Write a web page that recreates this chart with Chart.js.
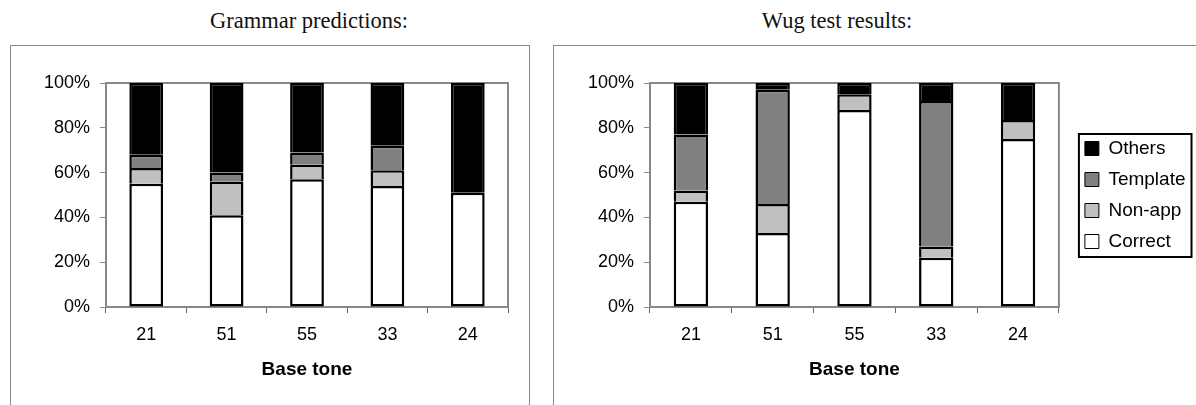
<!DOCTYPE html>
<html><head><meta charset="utf-8">
<script src="https://cdn.jsdelivr.net/npm/chart.js@4.4.1/dist/chart.umd.min.js"></script>
<style>
html,body{margin:0;padding:0;background:#fff;width:1196px;height:405px;overflow:hidden;position:relative;font-family:"Liberation Sans",Arial,sans-serif}
.title{position:absolute;top:9px;line-height:23px;font-family:"Liberation Serif","Times New Roman",serif;font-size:22.5px;color:#111;white-space:nowrap;transform:translateX(-50%)}
.box{position:absolute;border:1.5px solid #888;box-sizing:border-box}
.wrap{position:absolute}
</style></head><body>
<div class="title" style="left:309px">Grammar predictions:</div>
<div class="title" style="left:837px">Wug test results:</div>
<div class="box" style="left:10px;top:45px;width:520px;height:380px"></div>
<div class="box" style="left:553px;top:45px;width:680px;height:380px"></div>
<div class="wrap" style="left:11px;top:47px;width:517px;height:358px"><canvas id="c1"></canvas></div>
<div class="wrap" style="left:555px;top:47px;width:641px;height:358px"><canvas id="c2"></canvas></div>
<script>
// ---- data ----
const categories = ['21', '51', '55', '33', '24'];
const seriesNames = ['Correct', 'Non-app', 'Template', 'Others'];
const grammarCorrect  = [55, 41, 57, 54, 51];
const grammarNonApp   = [7, 15, 6.5, 7, 0];
const grammarTemplate = [6, 4, 5.5, 11, 0];
const grammarOthers   = [32, 40, 31, 28, 49];
const wugCorrect  = [47, 33, 88, 22, 75];
const wugNonApp   = [5, 13, 7, 5, 8.5];
const wugTemplate = [25, 51, 0, 65, 0];
const wugOthers   = [23, 3, 5, 8, 16.5];
const yTickValues = [0, 20, 40, 60, 80, 100];
const xAxisTitle = 'Base tone';

// ---- styling ----
const FONT = '"Liberation Sans", Arial, sans-serif';
const fills = ['#ffffff', '#c0c0c0', '#808080', '#000000'];
const LEGEND_GAP = 14;

function makeDatasets(arrs) {
  return arrs.map((d, i) => ({
    label: seriesNames[i],
    data: d,
    backgroundColor: fills[i],
    borderColor: '#000',
    borderWidth: 2.5,
    borderSkipped: i === 0 ? false : 'start',
    inflateAmount: 0,
    barPercentage: 0.42,
    categoryPercentage: 1.0
  }));
}

const plotBorder = {
  id: 'plotBorder',
  beforeDatasetsDraw(chart) {
    const a = chart.chartArea, ctx = chart.ctx;
    ctx.save();
    ctx.strokeStyle = '#888';
    ctx.lineWidth = 2;
    ctx.strokeRect(a.left, a.top, a.right - a.left, a.bottom - a.top);
    ctx.restore();
  }
};

// move the legend a little away from the plot area, then frame it
const legendBox = {
  id: 'legendBox',
  afterLayout(chart) {
    const lg = chart.legend;
    if (!lg) return;
    lg.left += LEGEND_GAP;
    lg.right += LEGEND_GAP;
  },
  afterDraw(chart) {
    const lg = chart.legend;
    if (!lg || !lg.options.display || !lg.legendHitBoxes.length) return;
    const hb = lg.legendHitBoxes;
    let l = Infinity, t = Infinity, r = -Infinity, b = -Infinity;
    hb.forEach(h => { l = Math.min(l, h.left); t = Math.min(t, h.top); r = Math.max(r, h.left + h.width); b = Math.max(b, h.top + h.height); });
    const ctx = chart.ctx;
    ctx.save();
    ctx.strokeStyle = '#000';
    ctx.lineWidth = 2;
    ctx.strokeRect(l - 6, t - 5, (r - l) + 12, (b - t) + 11);
    ctx.restore();
  }
};

function makeOptions(withLegend) {
  return {
    responsive: true,
    maintainAspectRatio: false,
    animation: false,
    layout: { padding: { top: 36, right: withLegend ? 14.5 : 20, left: 0, bottom: 0 } },
    scales: {
      x: {
        stacked: true,
        offset: true,
        grid: { display: true, drawOnChartArea: false, drawTicks: true, tickLength: 6, color: '#666', offset: true },
        border: { display: true, color: '#888', width: 2 },
        ticks: { color: '#000', font: { family: FONT, size: 18 }, padding: 11 },
        title: { display: true, text: xAxisTitle, color: '#000', font: { family: FONT, size: 19, weight: 'bold' }, padding: { top: 0, bottom: 24 } },
        afterFit: s => { s.height = 98; }
      },
      y: {
        stacked: true,
        min: 0, max: 100,
        afterBuildTicks: s => { s.ticks = yTickValues.map(v => ({ value: v })); },
        grid: { display: true, drawOnChartArea: false, tickLength: 6, color: '#888' },
        border: { display: true, color: '#888', width: 2 },
        ticks: { color: '#000', font: { family: FONT, size: 18 }, padding: 10, callback: v => v + '%' },
        afterFit: s => { s.width = 95; }
      }
    },
    plugins: {
      tooltip: { enabled: false },
      legend: withLegend ? {
        display: true,
        position: 'right',
        align: 'center',
        fullSize: false,
        reverse: true,
        labels: {
          color: '#000',
          font: { family: FONT, size: 19 },
          boxWidth: 14, boxHeight: 14, padding: 12,
          generateLabels(chart) {
            const items = Chart.defaults.plugins.legend.labels.generateLabels(chart);
            items.forEach(it => { it.lineWidth = 1; it.strokeStyle = '#000'; });
            return items;
          }
        }
      } : { display: false }
    }
  };
}

new Chart(document.getElementById('c1'), {
  type: 'bar',
  data: { labels: categories, datasets: makeDatasets([grammarCorrect, grammarNonApp, grammarTemplate, grammarOthers]) },
  options: makeOptions(false),
  plugins: [plotBorder]
});
new Chart(document.getElementById('c2'), {
  type: 'bar',
  data: { labels: categories, datasets: makeDatasets([wugCorrect, wugNonApp, wugTemplate, wugOthers]) },
  options: makeOptions(true),
  plugins: [plotBorder, legendBox]
});
</script>
</body></html>
